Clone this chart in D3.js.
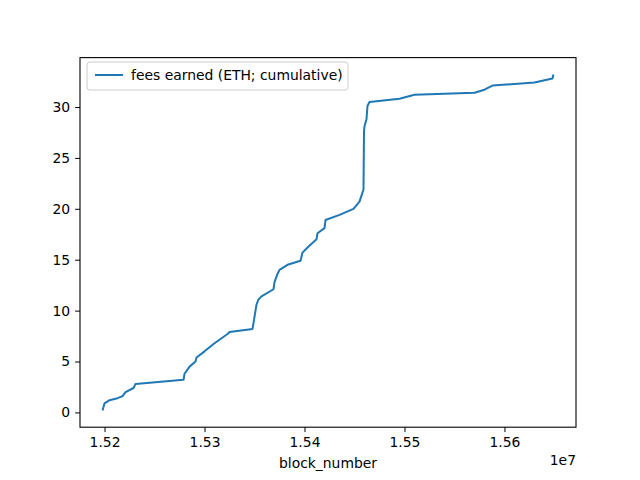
<!DOCTYPE html>
<html>
<head>
<script src="https://cdn.jsdelivr.net/npm/d3@7"></script>
<style>
body{margin:0;background:#fff;font-family:"DejaVu Sans",sans-serif;}
text{font-family:"DejaVu Sans",sans-serif;}
</style>
</head>
<body>
<svg id="chart" width="640" height="480"></svg>
<script>
// cumulative fees
const blocks = [15198000,15200000,15205000,15213000,15218000,15221000,15229000,15231000,15279000,15280000,
  15285000,15291000,15292000,15300000,15310000,15323000,15325000,15348000,15349000,15351000,
  15352000,15354000,15357000,15369000,15370000,15373000,15375000,15383000,15396000,15398000,
  15403000,15412000,15413000,15420000,15421000,15435000,15449000,15455000,15459000,15459500,
  15460000,15462000,15463000,15465000,15495000,15510000,15570000,15580000,15588000,15630000,
  15648000,15649000];
const fees = [0.2,0.9,1.2,1.4,1.6,2.0,2.4,2.8,3.2,3.8,
  4.5,5.0,5.4,6.0,6.8,7.7,7.9,8.2,8.8,10.0,
  10.6,11.1,11.4,12.1,12.8,13.6,14.0,14.5,14.9,15.7,
  16.2,17.0,17.6,18.1,18.9,19.4,20.0,20.7,21.9,27.6,
  28.1,28.8,30.1,30.5,30.8,31.2,31.4,31.7,32.1,32.4,
  32.8,33.2];
const xTicks = [1.52e7,1.53e7,1.54e7,1.55e7,1.56e7];
const yTicks = [0,5,10,15,20,25,30];
const seriesLabel = "fees earned (ETH; cumulative)";

const svg = d3.select("#chart");
const L = 80, R = 576, T = 57.6, B = 427.2;
const color = "#1f77b4";
const fs = 13.9;

const xe = d3.extent(blocks), ye = d3.extent(fees);
const xp = (xe[1]-xe[0])*0.05, yp = (ye[1]-ye[0])*0.05;
const x = d3.scaleLinear().domain([xe[0]-xp, xe[1]+xp]).range([L, R]);
const y = d3.scaleLinear().domain([ye[0]-yp, ye[1]+yp]).range([B, T]);

svg.append("g").attr("transform", `translate(0,${B})`)
  .call(d3.axisBottom(x).tickValues(xTicks).tickSize(4.9).tickPadding(4.9).tickFormat(d => (d/1e7).toFixed(2)))
  .call(g => g.selectAll("text").attr("font-size", fs).attr("fill", "#000"));
svg.append("g").attr("transform", `translate(${L},0)`)
  .call(d3.axisLeft(y).tickValues(yTicks).tickSize(4.9).tickPadding(4.9))
  .call(g => g.selectAll("text").attr("font-size", fs).attr("fill", "#000"));
svg.selectAll(".domain").remove();
svg.append("rect").attr("x", L).attr("y", T).attr("width", R-L).attr("height", B-T)
  .attr("fill", "none").attr("stroke", "#000").attr("stroke-width", 1.1);

svg.append("path")
  .datum(blocks.map((b, i) => [b, fees[i]]))
  .attr("fill", "none").attr("stroke", color).attr("stroke-width", 2)
  .attr("stroke-linejoin", "round")
  .attr("d", d3.line().x(d => x(d[0])).y(d => y(d[1])));

svg.append("text").attr("x", (L+R)/2).attr("y", 468).attr("text-anchor", "middle")
  .attr("font-size", fs).text("block_number");
svg.append("text").attr("x", R).attr("y", 465).attr("text-anchor", "end")
  .attr("font-size", fs).text("1e7");

// legend
const lg = svg.append("g").attr("transform", "translate(87,62)");
lg.append("rect").attr("width", 261).attr("height", 28).attr("rx", 3)
  .attr("fill", "#fff").attr("stroke", "#ccc");
lg.append("line").attr("x1", 8).attr("x2", 36).attr("y1", 13).attr("y2", 13)
  .attr("stroke", color).attr("stroke-width", 2);
lg.append("text").attr("x", 44).attr("y", 18).attr("font-size", fs).text(seriesLabel);
</script>
</body>
</html>
